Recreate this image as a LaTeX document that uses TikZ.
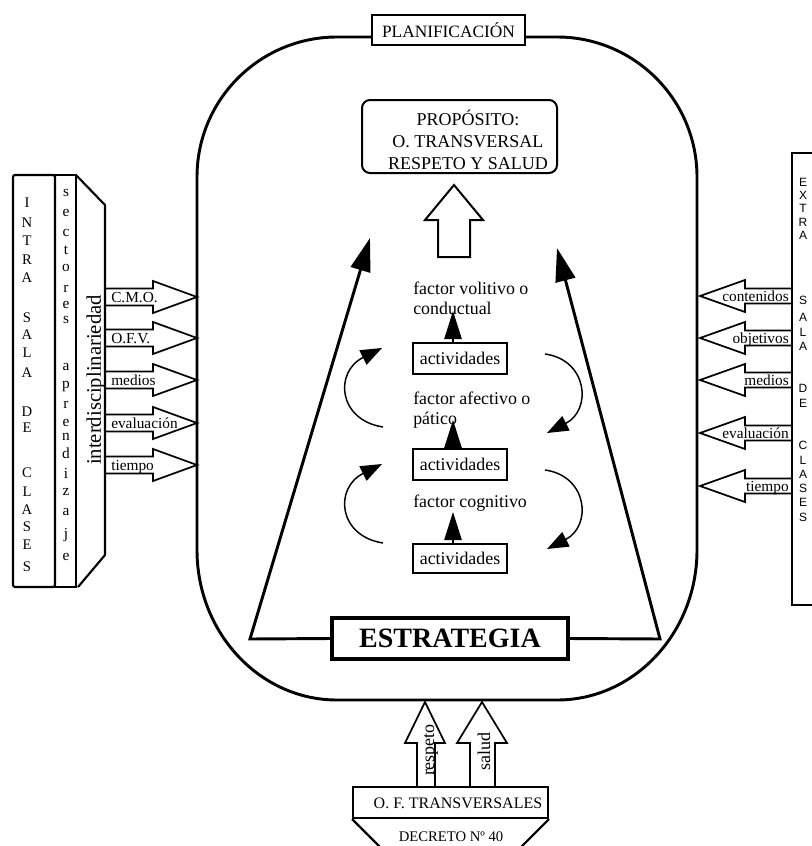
\documentclass[tikz,border=0pt]{standalone}
\usepackage{fontspec}
\setmainfont{Liberation Serif}
\newfontfamily\sansf{Liberation Sans}
\usetikzlibrary{arrows.meta}
\newcommand\myfs[2]{\fontsize{#1}{#2}\selectfont}
\begin{document}
\begin{tikzpicture}[x=0.75pt,y=-0.75pt,
  mainline/.style={line width=2.2pt},
  bigline/.style={line width=2.2pt, line join=miter, -{Triangle[length=25pt,width=15pt]}},
  panel/.style={line width=1.6pt},
  blockarr/.style={line width=1.3pt, line join=miter},
  curvarr/.style={line width=1.1pt, -{Triangle[length=16pt,width=12pt]}},
  smallarr/.style={line width=1.1pt, -{Triangle[length=21pt,width=13pt]}},
  tbox/.style={draw, line width=1.5pt, inner sep=0pt},
  txt/.style={inner sep=0pt, font=\myfs{13.4}{15}}
]
\fill[white] (0,0) rectangle (812,846);
\useasboundingbox (0,0) rectangle (812,846);

% big rounded frame
\draw[mainline] (337,37) -- (557,37) .. controls (634.3,37) and (697,99.7) .. (697,177)
  -- (697,550) .. controls (697,632.8) and (634.3,700) .. (557,700)
  -- (337,700) .. controls (259.7,700) and (197,632.8) .. (197,550)
  -- (197,177) .. controls (197,99.7) and (259.7,37) .. (337,37) -- cycle;

\node[tbox, line width=2pt, fill=white, minimum width=114.75pt, minimum height=22.5pt, font=\myfs{13}{15}] (plan) at (448.5,30) {PLANIFICACIÓN};

% proposito
\node[draw, rounded corners=6pt, line width=1.5pt, minimum width=146.25pt, minimum height=54.75pt] (prop) at (459.5,136.5) {};
\node[align=center, inner sep=0pt, font=\myfs{13.5}{16.5}] (proptxt) at (468,140) {PROPÓSITO:\\O. TRANSVERSAL\\RESPETO Y SALUD};
\draw[blockarr, line width=1.5pt] (438,257) -- (438,220) -- (425,220) -- (454,185) -- (483,220) -- (470,220) -- (470,257) -- cycle;

% estrategia and trapezoid
\node[tbox, line width=2.4pt, minimum width=177pt, minimum height=30.75pt, font=\myfs{21}{24}\bfseries] (estr) at (450,638.5) {ESTRATEGIA};
\coordinate (tl) at (370,238);
\coordinate (tr) at (557,248);
\coordinate (bl) at (250,639);
\coordinate (br) at (660,639);
\draw[bigline] (estr.west) -- (bl) -- (tl);
\draw[bigline] (estr.east) -- (br) -- (tr);

% activities
\node[tbox, minimum width=70.5pt, minimum height=23.25pt, font=\myfs{13.4}{15}] (act1) at (460,358.5) {actividades};
\node[tbox, minimum width=70.5pt, minimum height=23.25pt, font=\myfs{13.4}{15}] (act2) at (460,464.5) {actividades};
\node[tbox, minimum width=70.5pt, minimum height=21.75pt, font=\myfs{13.4}{15}] (act3) at (460,558.5) {actividades};
\node[txt, anchor=west, align=left] (fac1) at (413,298) {factor volitivo o\\conductual};
\node[txt, anchor=west, align=left] (fac2) at (413,410) {factor afectivo o\\pático};
\node[txt, anchor=west, align=left] (fac3) at (413,503) {factor cognitivo};
\draw[smallarr] (act1.north) ++(-7,0) -- ++(0,-31);
\draw[smallarr] (act2.north) ++(-7,0) -- ++(0,-28);
\draw[smallarr] (act3.north) ++(-7,0) -- ++(0,-31);

% curved arrows
\draw[curvarr] (383,427) .. controls (338,420) and (334,372) .. (382,348);
\draw[curvarr] (383,543) .. controls (338,536) and (334,488) .. (382,464);
\draw[curvarr] (545,354) .. controls (588,360) and (592,410) .. (547,433);
\draw[curvarr] (545,470) .. controls (588,476) and (592,526) .. (547,549);

% left panel
\draw[panel, rounded corners=1.5pt] (13,175) rectangle (55,587);
\draw[panel] (55,175) rectangle (76,587);
\draw[panel, line join=miter] (76,175) -- (105,205) -- (105,555) -- (78,587);
\foreach \ch/\y [count=\i] in {I/203, N/223, T/241, R/260, A/278, S/318, A/335, L/353, A/373, D/412, E/428, C/473, L/492, A/510, S/527, E/545, S/567}
  \node[inner sep=0pt, font=\myfs{11}{12}] (intra\i) at (27,\y) {\ch};
\foreach \ch/\y [count=\i] in {s/193, e/213, c/233, t/250, o/268, r/289, e/305, s/320, a/367, p/387, r/405, e/423, n/437, d/453, i/473, z/492, a/512, j/535, e/557}
  \node[inner sep=0pt, font=\myfs{11.5}{12}] (sect\i) at (66,\y) {\ch};
\node[rotate=90, inner sep=0pt, font=\myfs{15.5}{17}] (inter) at (96,380) {interdisciplinariedad};

\foreach \y/\t [count=\i] in {297/C.M.O., 338/O.F.V., 380/medios, 423/evaluación, 465/tiempo} {
  \draw[blockarr] (105,\y-8.5) -- (153,\y-8.5) -- (153,\y-16) -- (197,\y) -- (153,\y+16) -- (153,\y+8.5) -- (105,\y+8.5);
  \node[anchor=base west, inner sep=0pt, font=\myfs{11.5}{13}] (la\i) at (111,\y+5) {\t};
}

% right panel
\draw[panel] (830,153) -- (792,153) -- (792,605) -- (830,605);
\foreach \ch/\y [count=\i] in {E/182, X/195, T/208, R/222, A/235, S/300, A/317, L/332, A/346, D/388, E/403, C/445, L/460, A/474, S/488, E/502, S/517}
  \node[inner sep=0pt, font=\sansf\myfs{9}{10}] (extra\i) at (803,\y) {\ch};
\foreach \y/\t [count=\i] in {296/contenidos, 338/objetivos, 380/medios, 433/evaluación, 486/tiempo} {
  \draw[blockarr] (792,\y-7.5) -- (745,\y-7.5) -- (745,\y-16) -- (700,\y) -- (745,\y+16) -- (745,\y+7.5) -- (792,\y+7.5);
  \node[anchor=base east, inner sep=0pt, font=\myfs{11.5}{13}] (ra\i) at (789,\y+5) {\t};
}

% bottom
\node[tbox, minimum width=146.25pt, minimum height=23.25pt] (oft) at (450.5,802.5) {};
\node[inner sep=0pt, font=\myfs{12}{14}] (ofttxt) at (458,803) {O. F. TRANSVERSALES};
\draw[panel] (oft.south west) -- ++(32,32);
\draw[panel] (oft.south east) -- ++(-32,32);
\node[inner sep=0pt, font=\myfs{11}{13}] (decr) at (451,837) {DECRETO Nº 40};
\draw[blockarr] (417,787) -- (417,743) -- (405,743) -- (425,702) -- (445,743) -- (435,743) -- (435,787);
\node[rotate=90, inner sep=0pt, font=\myfs{13.5}{15}] (resp) at (431,750) {respeto};
\draw[blockarr] (470,787) -- (470,743) -- (457,743) -- (482,702) -- (507,743) -- (495,743) -- (495,787);
\node[rotate=90, inner sep=0pt, font=\myfs{13.5}{15}] (sal) at (484,751) {salud};
\end{tikzpicture}
\end{document}
